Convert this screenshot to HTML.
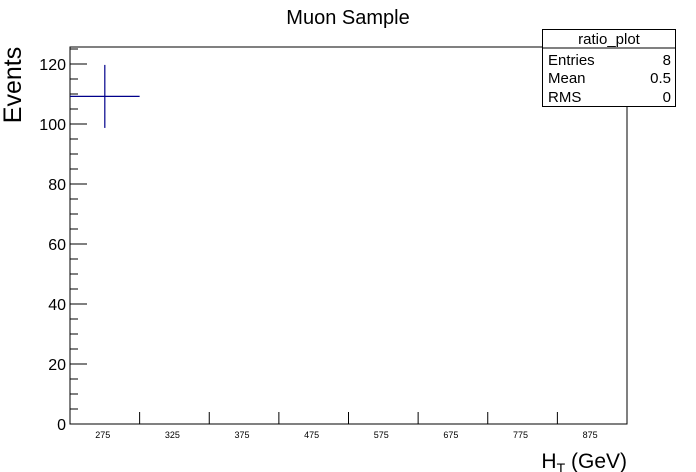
<!DOCTYPE html>
<html><head><meta charset="utf-8"><style>
body{margin:0;background:#fff;}
svg{display:block;font-family:"Liberation Sans",Arial,sans-serif;}
</style></head><body>
<svg id="c" width="696" height="472">
<rect width="696" height="472" fill="#fff"/>
<text x="348" y="24" font-size="20" text-anchor="middle">Muon Sample</text>
<text transform="translate(21,85) rotate(-90)" font-size="25" text-anchor="middle">Events</text>
<text x="627" y="468" font-size="21" text-anchor="end">H<tspan font-size="14" dy="5">T</tspan><tspan dy="-5"> (GeV)</tspan></text>
<rect x="70" y="47" width="557" height="377" fill="none" stroke="#000" stroke-width="1"/>
<g id="axes"></g>
<g id="marks"></g>
<g>
<rect x="542.5" y="29.5" width="133" height="77" fill="#fff" stroke="#000"/>
<line x1="542.5" y1="48" x2="675.5" y2="48" stroke="#000"/>
<text x="609" y="44" font-size="15" text-anchor="middle">ratio_plot</text>
<text x="548" y="65" font-size="15">Entries</text><text x="671" y="65" font-size="15" text-anchor="end">8</text>
<text x="548" y="83" font-size="15">Mean</text><text x="671" y="83" font-size="15" text-anchor="end">0.5</text>
<text x="548" y="102" font-size="15">RMS</text><text x="671" y="102" font-size="15" text-anchor="end">0</text>
</g>
</svg>
<script>
const categories=["275","325","375","475","575","675","775","875"];
const values=[109.2];
const errors=[10.5];
const yTicks=[0,20,40,60,80,100,120];
const NS="http://www.w3.org/2000/svg";
const X0=70,X1=627,Y0=424,Y1=47,YMAX=125.67;
const bw=(X1-X0)/categories.length;
const y=v=>Y0-(v/YMAX)*(Y0-Y1);
const xc=i=>X0+bw*(i+0.5);
function mk(tag,a,p){const e=document.createElementNS(NS,tag);for(const k in a)e.setAttribute(k,a[k]);p.appendChild(e);return e;}
const ax=document.getElementById('axes');
for(let v=0;v<=YMAX;v+=5){
  const major=v%20===0;
  const l=mk('line',{x1:X0,x2:X0+(major?17:8),y1:y(v),y2:y(v),stroke:'#000'},ax);
  
  
}
yTicks.forEach(v=>{
  const t=mk('text',{x:X0-4,y:y(v)+6,'font-size':16,'text-anchor':'end'},ax);
  t.textContent=v;
  
  
});
categories.forEach((c,i)=>{
  if(i>0){const l=mk('line',{x1:X0+bw*i,x2:X0+bw*i,y1:Y0,y2:Y0-12,stroke:'#000'},ax);
  
  }
  const t=mk('text',{x:xc(i)-2,y:438,'font-size':9,'text-anchor':'middle'},ax);
  t.textContent=c;
  
  
});
const mg=document.getElementById('marks');
values.forEach((v,i)=>{
  const g=mk('g',{stroke:'#00008b','stroke-width':1.2},mg);
  
  
  mk('line',{x1:X0+bw*i,x2:X0+bw*(i+1),y1:y(v),y2:y(v)},g);
  mk('line',{x1:xc(i),x2:xc(i),y1:y(v-errors[i]),y2:y(v+errors[i])},g);
});
</script>
</body></html>
